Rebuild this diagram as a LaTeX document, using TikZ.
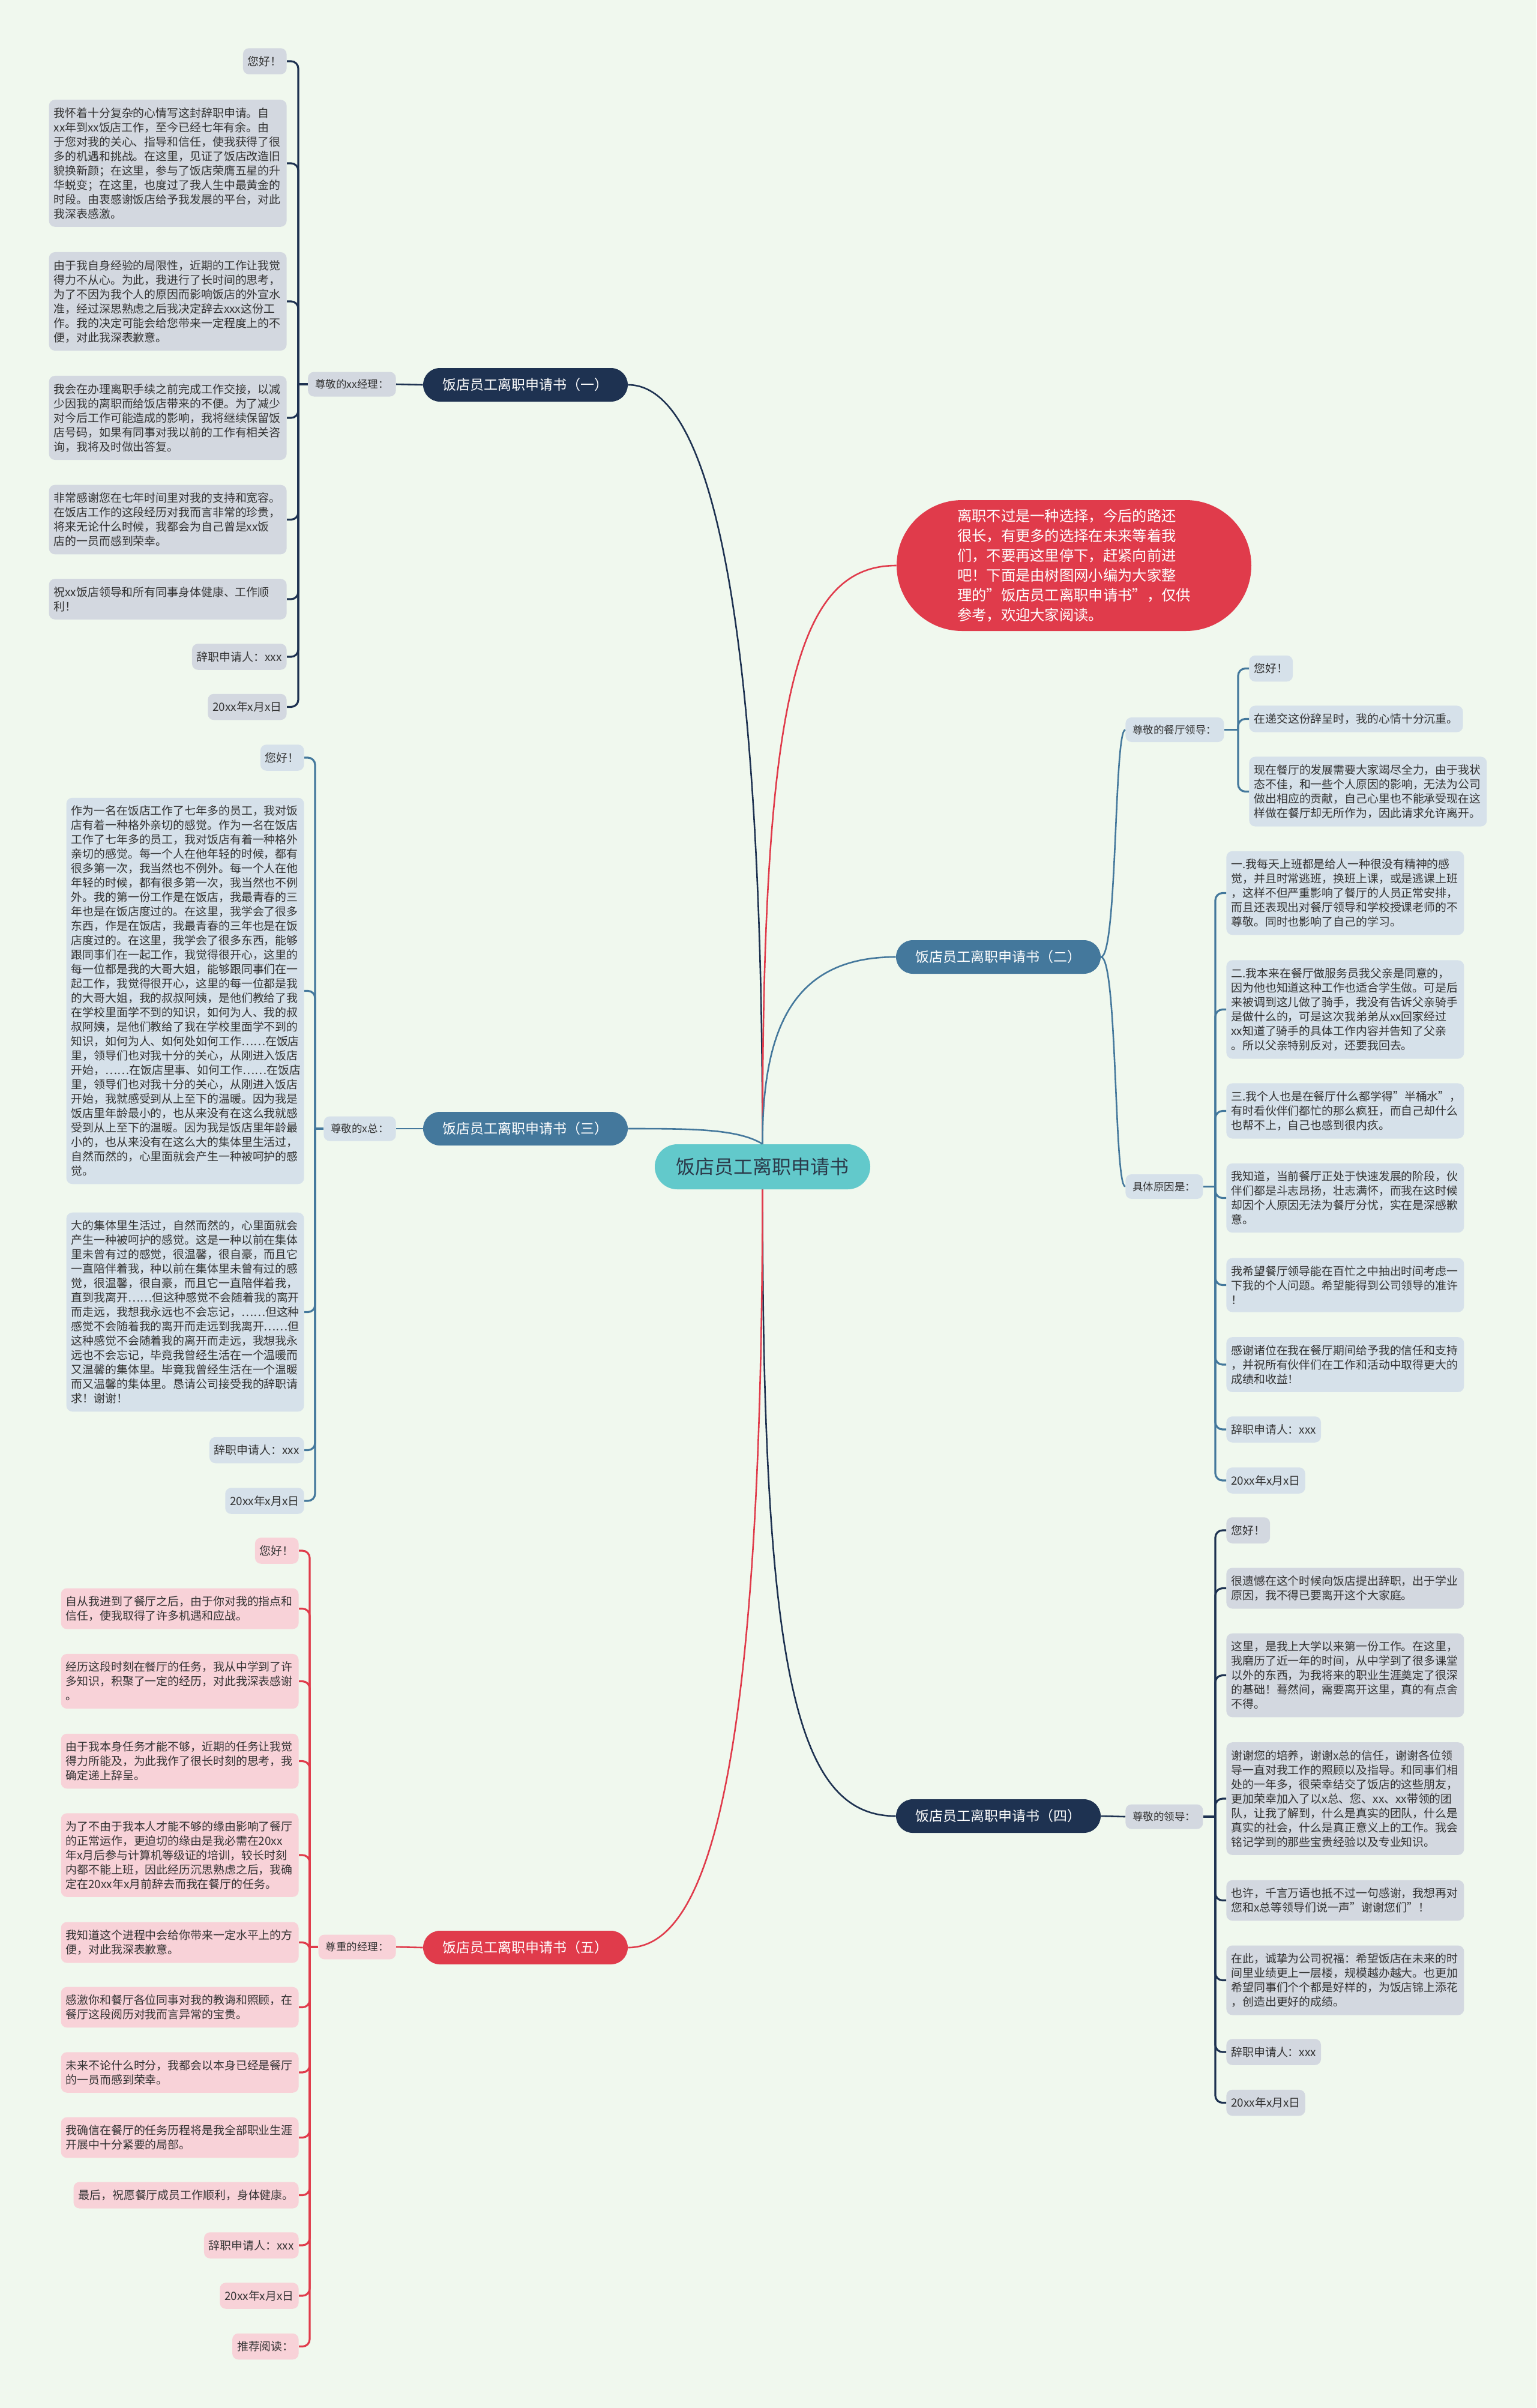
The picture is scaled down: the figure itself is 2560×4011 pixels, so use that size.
\documentclass[tikz,border=0pt]{standalone}
\usepackage{fontspec}
\setmainfont{Noto Sans CJK SC}
\usetikzlibrary{shapes.misc}

\definecolor{bgmint}{HTML}{F0F8EE}
\definecolor{navy}{HTML}{1E3251}
\definecolor{steel}{HTML}{44789C}
\definecolor{rosered}{HTML}{E03B4B}
\definecolor{rootteal}{HTML}{62C9CB}
\definecolor{roottext}{HTML}{2B3A4A}
\definecolor{leafgray}{HTML}{D3D8E0}
\definecolor{leafblue}{HTML}{D6E1EA}
\definecolor{leafpink}{HTML}{F8D2D8}
\definecolor{inktext}{HTML}{333333}

\begin{document}
\begin{tikzpicture}[
                x=0.5pt, y=-0.5pt,
                leaf/.style={rectangle, rounded corners=5pt, text width=190pt, align=left, inner xsep=4pt, inner ysep=6.5pt, text=inktext, font=\fontsize{9.45pt}{12pt}\selectfont},
                tag/.style={rectangle, rounded corners=5pt, inner xsep=4pt, inner ysep=6.5pt, text=inktext, font=\fontsize{9.45pt}{12pt}\selectfont},
                lead/.style={rectangle, rounded corners=5pt, inner xsep=6pt, minimum height=20.5pt, text=inktext, font=\fontsize{8.75pt}{10pt}\selectfont},
                branch/.style={rounded rectangle, minimum width=174.5pt, minimum height=28pt, inner xsep=2pt, text=white, font=\fontsize{11.5pt}{13pt}\selectfont},
                trunk/.style={line width=1.3pt},
                brk/.style={line width=1.6pt, rounded corners=6pt},
            ]
            \useasboundingbox (0,0) rectangle (2560,4011);
            \fill[bgmint] (0,0) rectangle (2560,4011);

            \node[rounded rectangle, fill=rootteal, text=roottext, minimum width=183.5pt, minimum height=37.5pt, inner xsep=2pt, font=\fontsize{16pt}{18pt}\selectfont] (root) at (1270.5,1943.5) {饭店员工离职申请书};
            \node[rounded rectangle, fill=rosered, text=white, minimum width=299.5pt, minimum height=109pt, inner xsep=2pt, align=left, font=\fontsize{12.15pt}{16.5pt}\selectfont] (intro) at (1789.5,942)
            {离职不过是一种选择，今后的路还\\很长，有更多的选择在未来等着我\\们，不要再这里停下，赶紧向前进\\吧！下面是由树图网小编为大家整\\理的"饭店员工离职申请书"，仅供\\参考，欢迎大家阅读。};

            \node[branch, fill=navy] (b1) at (875.5,641) {饭店员工离职申请书（一）};
            \node[branch, fill=steel] (b2) at (1663.5,1594) {饭店员工离职申请书（二）};
            \node[branch, fill=steel] (b3) at (875.5,1880) {饭店员工离职申请书（三）};
            \node[branch, fill=navy] (b4) at (1663.5,3025) {饭店员工离职申请书（四）};
            \node[branch, fill=rosered] (b5) at (875.5,3244) {饭店员工离职申请书（五）};

            % (一)
            \node[lead, fill=leafgray, anchor=east] (lo) at (660,640) {尊敬的xx经理：};
            \coordinate (vo) at (497,640);
            \node[tag, fill=leafgray, anchor=east] (o1) at (478,102) {您好！};
            \node[leaf, fill=leafgray, anchor=east] (o2) at (478,272)
            {我怀着十分复杂的心情写这封辞职申请。自\\xx年到xx饭店工作，至今已经七年有余。由\\于您对我的关心、指导和信任，使我获得了很\\多的机遇和挑战。在这里，见证了饭店改造旧\\貌换新颜；在这里，参与了饭店荣膺五星的升\\华蜕变；在这里，也度过了我人生中最黄金的\\时段。由衷感谢饭店给予我发展的平台，对此\\我深表感激。};
            \node[leaf, fill=leafgray, anchor=east] (o3) at (478,502)
            {由于我自身经验的局限性，近期的工作让我觉\\得力不从心。为此，我进行了长时间的思考，\\为了不因为我个人的原因而影响饭店的外宣水\\准，经过深思熟虑之后我决定辞去xxx这份工\\作。我的决定可能会给您带来一定程度上的不\\便，对此我深表歉意。};
            \node[leaf, fill=leafgray, anchor=east] (o4) at (478,696)
            {我会在办理离职手续之前完成工作交接，以减\\少因我的离职而给饭店带来的不便。为了减少\\对今后工作可能造成的影响，我将继续保留饭\\店号码，如果有同事对我以前的工作有相关咨\\询，我将及时做出答复。};
            \node[leaf, fill=leafgray, anchor=east] (o5) at (478,865.5)
            {非常感谢您在七年时间里对我的支持和宽容。\\在饭店工作的这段经历对我而言非常的珍贵，\\将来无论什么时候，我都会为自己曾是xx饭\\店的一员而感到荣幸。};
            \node[leaf, fill=leafgray, anchor=east] (o6) at (478,998)
            {祝xx饭店领导和所有同事身体健康、工作顺\\利！};
            \node[tag, fill=leafgray, anchor=east] (o7) at (478,1094) {辞职申请人：xxx};
            \node[tag, fill=leafgray, anchor=east] (o8) at (478,1177.5) {20xx年x月x日};

            % (三)
            \node[lead, fill=leafblue, anchor=east] (lt) at (660,1880) {尊敬的x总：};
            \coordinate (vt) at (525,1880);
            \node[tag, fill=leafblue, anchor=east] (t1) at (507,1262) {您好！};
            \node[leaf, fill=leafblue, anchor=east] (t2) at (507,1650.5)
            {作为一名在饭店工作了七年多的员工，我对饭\\店有着一种格外亲切的感觉。作为一名在饭店\\工作了七年多的员工，我对饭店有着一种格外\\亲切的感觉。每一个人在他年轻的时候，都有\\很多第一次，我当然也不例外。每一个人在他\\年轻的时候，都有很多第一次，我当然也不例\\外。我的第一份工作是在饭店，我最青春的三\\年也是在饭店度过的。在这里，我学会了很多\\东西，作是在饭店，我最青春的三年也是在饭\\店度过的。在这里，我学会了很多东西，能够\\跟同事们在一起工作，我觉得很开心，这里的\\每一位都是我的大哥大姐，能够跟同事们在一\\起工作，我觉得很开心，这里的每一位都是我\\的大哥大姐，我的叔叔阿姨，是他们教给了我\\在学校里面学不到的知识，如何为人、我的叔\\叔阿姨，是他们教给了我在学校里面学不到的\\知识，如何为人、如何处如何工作……在饭店\\里，领导们也对我十分的关心，从刚进入饭店\\开始，……在饭店里事、如何工作……在饭店\\里，领导们也对我十分的关心，从刚进入饭店\\开始，我就感受到从上至下的温暖。因为我是\\饭店里年龄最小的，也从来没有在这么我就感\\受到从上至下的温暖。因为我是饭店里年龄最\\小的，也从来没有在这么大的集体里生活过，\\自然而然的，心里面就会产生一种被呵护的感\\觉。};
            \node[leaf, fill=leafblue, anchor=east] (t3) at (507,2185.5)
            {大的集体里生活过，自然而然的，心里面就会\\产生一种被呵护的感觉。这是一种以前在集体\\里未曾有过的感觉，很温馨，很自豪，而且它\\一直陪伴着我，种以前在集体里未曾有过的感\\觉，很温馨，很自豪，而且它一直陪伴着我，\\直到我离开……但这种感觉不会随着我的离开\\而走远，我想我永远也不会忘记，……但这种\\感觉不会随着我的离开而走远到我离开……但\\这种感觉不会随着我的离开而走远，我想我永\\远也不会忘记，毕竟我曾经生活在一个温暖而\\又温馨的集体里。毕竟我曾经生活在一个温暖\\而又温馨的集体里。恳请公司接受我的辞职请\\求！谢谢！};
            \node[tag, fill=leafblue, anchor=east] (t4) at (507,2415.5) {辞职申请人：xxx};
            \node[tag, fill=leafblue, anchor=east] (t5) at (507,2500) {20xx年x月x日};

            % (五)
            \node[lead, fill=leafpink, anchor=east] (lf) at (660,3243) {尊重的经理：};
            \coordinate (vf) at (516,3243);
            \node[tag, fill=leafpink, anchor=east] (f1) at (498,2583) {您好！};
            \node[leaf, fill=leafpink, anchor=east] (f2) at (498,2679.5)
            {自从我进到了餐厅之后，由于你对我的指点和\\信任，使我取得了许多机遇和应战。};
            \node[leaf, fill=leafpink, anchor=east] (f3) at (498,2800.5)
            {经历这段时刻在餐厅的任务，我从中学到了许\\多知识，积聚了一定的经历，对此我深表感谢\\。};
            \node[leaf, fill=leafpink, anchor=east] (f4) at (498,2933.5)
            {由于我本身任务才能不够，近期的任务让我觉\\得力所能及，为此我作了很长时刻的思考，我\\确定递上辞呈。};
            \node[leaf, fill=leafpink, anchor=east] (f5) at (498,3090)
            {为了不由于我本人才能不够的缘由影响了餐厅\\的正常运作，更迫切的缘由是我必需在20xx\\年x月后参与计算机等级证的培训，较长时刻\\内都不能上班，因此经历沉思熟虑之后，我确\\定在20xx年x月前辞去而我在餐厅的任务。};
            \node[leaf, fill=leafpink, anchor=east] (f6) at (498,3235.5)
            {我知道这个进程中会给你带来一定水平上的方\\便，对此我深表歉意。};
            \node[leaf, fill=leafpink, anchor=east] (f7) at (498,3343.5)
            {感激你和餐厅各位同事对我的教诲和照顾，在\\餐厅这段阅历对我而言异常的宝贵。};
            \node[leaf, fill=leafpink, anchor=east] (f8) at (498,3452)
            {未来不论什么时分，我都会以本身已经是餐厅\\的一员而感到荣幸。};
            \node[leaf, fill=leafpink, anchor=east] (f9) at (498,3560.5)
            {我确信在餐厅的任务历程将是我全部职业生涯\\开展中十分紧要的局部。};
            \node[tag, fill=leafpink, anchor=east] (f10) at (498,3656.5) {最后，祝愿餐厅成员工作顺利，身体健康。};
            \node[tag, fill=leafpink, anchor=east] (f11) at (498,3740) {辞职申请人：xxx};
            \node[tag, fill=leafpink, anchor=east] (f12) at (498,3824) {20xx年x月x日};
            \node[tag, fill=leafpink, anchor=east] (f13) at (498,3908.5) {推荐阅读：};

            % (二)
            \node[lead, fill=leafblue, anchor=west] (ld) at (1875,1215.5) {尊敬的餐厅领导：};
            \coordinate (vd) at (2063,1215.5);
            \node[tag, fill=leafblue, anchor=west] (d1) at (2081,1113.5) {您好！};
            \node[tag, fill=leafblue, anchor=west] (d2) at (2081,1197.5) {在递交这份辞呈时，我的心情十分沉重。};
            \node[leaf, fill=leafblue, anchor=west] (d3) at (2081,1318.5)
            {现在餐厅的发展需要大家竭尽全力，由于我状\\态不佳，和一些个人原因的影响，无法为公司\\做出相应的贡献，自己心里也不能承受现在这\\样做在餐厅却无所作为，因此请求允许离开。};
            \node[lead, fill=leafblue, anchor=west] (lg) at (1875,1976.5) {具体原因是：};
            \coordinate (vg) at (2025,1976.5);
            \node[leaf, fill=leafblue, anchor=west] (g1) at (2043,1487.5)
            {一.我每天上班都是给人一种很没有精神的感\\觉，并且时常逃班，换班上课，或是逃课上班\\，这样不但严重影响了餐厅的人员正常安排，\\而且还表现出对餐厅领导和学校授课老师的不\\尊敬。同时也影响了自己的学习。};
            \node[leaf, fill=leafblue, anchor=west] (g2) at (2043,1681.5)
            {二.我本来在餐厅做服务员我父亲是同意的，\\因为他也知道这种工作也适合学生做。可是后\\来被调到这儿做了骑手，我没有告诉父亲骑手\\是做什么的，可是这次我弟弟从xx回家经过\\xx知道了骑手的具体工作内容并告知了父亲\\。所以父亲特别反对，还要我回去。};
            \node[leaf, fill=leafblue, anchor=west] (g3) at (2043,1850.5)
            {三.我个人也是在餐厅什么都学得"半桶水"，\\有时看伙伴们都忙的那么疯狂，而自己却什么\\也帮不上，自己也感到很内疚。};
            \node[leaf, fill=leafblue, anchor=west] (g4) at (2043,1995.5)
            {我知道，当前餐厅正处于快速发展的阶段，伙\\伴们都是斗志昂扬，壮志满怀，而我在这时候\\却因个人原因无法为餐厅分忧，实在是深感歉\\意。};
            \node[leaf, fill=leafblue, anchor=west] (g5) at (2043,2140.5)
            {我希望餐厅领导能在百忙之中抽出时间考虑一\\下我的个人问题。希望能得到公司领导的准许\\！};
            \node[leaf, fill=leafblue, anchor=west] (g6) at (2043,2273)
            {感谢诸位在我在餐厅期间给予我的信任和支持\\，并祝所有伙伴们在工作和活动中取得更大的\\成绩和收益！};
            \node[tag, fill=leafblue, anchor=west] (g7) at (2043,2381) {辞职申请人：xxx};
            \node[tag, fill=leafblue, anchor=west] (g8) at (2043,2466) {20xx年x月x日};

            % (四)
            \node[lead, fill=leafgray, anchor=west] (lh) at (1875,3026) {尊敬的领导：};
            \coordinate (vh) at (2025,3026);
            \node[tag, fill=leafgray, anchor=west] (h1) at (2043,2549) {您好！};
            \node[leaf, fill=leafgray, anchor=west] (h2) at (2043,2645.5)
            {很遗憾在这个时候向饭店提出辞职，出于学业\\原因，我不得已要离开这个大家庭。};
            \node[leaf, fill=leafgray, anchor=west] (h3) at (2043,2790.5)
            {这里，是我上大学以来第一份工作。在这里，\\我磨历了近一年的时间，从中学到了很多课堂\\以外的东西，为我将来的职业生涯奠定了很深\\的基础！蓦然间，需要离开这里，真的有点舍\\不得。};
            \node[leaf, fill=leafgray, anchor=west] (h4) at (2043,2996)
            {谢谢您的培养，谢谢x总的信任，谢谢各位领\\导一直对我工作的照顾以及指导。和同事们相\\处的一年多，很荣幸结交了饭店的这些朋友，\\更加荣幸加入了以x总、您、xx、xx带领的团\\队，让我了解到，什么是真实的团队，什么是\\真实的社会，什么是真正意义上的工作。我会\\铭记学到的那些宝贵经验以及专业知识。};
            \node[leaf, fill=leafgray, anchor=west] (h5) at (2043,3165.5)
            {也许，千言万语也抵不过一句感谢，我想再对\\您和x总等领导们说一声"谢谢您们"！};
            \node[leaf, fill=leafgray, anchor=west] (h6) at (2043,3298.5)
            {在此，诚挚为公司祝福：希望饭店在未来的时\\间里业绩更上一层楼，规模越办越大。也更加\\希望同事们个个都是好样的，为饭店锦上添花\\，创造出更好的成绩。};
            \node[tag, fill=leafgray, anchor=west] (h7) at (2043,3418) {辞职申请人：xxx};
            \node[tag, fill=leafgray, anchor=west] (h8) at (2043,3502.5) {20xx年x月x日};

            \draw[trunk, navy] (root.north) .. controls (1270,1000) and (1180,641) .. (b1.east);
            \draw[trunk, rosered] (root.north) .. controls (1270,1150) and (1330,942) .. (intro.west);
            \draw[trunk, steel] (root.north) .. controls (1270,1700) and (1330,1594) .. (b2.west);
            \draw[trunk, steel] (root.north) .. controls (1230,1880) and (1150,1880) .. (b3.east);
            \draw[trunk, navy] (root.south) .. controls (1270,2800) and (1330,3025) .. (b4.west);
            \draw[trunk, rosered] (root.south) .. controls (1270,2950) and (1180,3244) .. (b5.east);

            \draw[trunk, navy] (b1.west) -- (lo.east);
            \draw[trunk, steel] (b3.west) -- (lt.east);
            \draw[trunk, rosered] (b5.west) -- (lf.east);
            \draw[trunk, navy] (b4.east) -- (lh.west);
            \draw[trunk, steel] (b2.east) .. controls (1862,1594) and (1856,1215.5) .. (ld.west);
            \draw[trunk, steel] (b2.east) .. controls (1862,1594) and (1856,1976.5) .. (lg.west);

            \draw[brk, navy] (lo.west) -- (vo);
            \draw[brk, navy] (o1.east) -- (o1.east -| vo) -- (vo);
            \draw[brk, navy] (o2.east) -- (o2.east -| vo) -- (vo);
            \draw[brk, navy] (o3.east) -- (o3.east -| vo) -- (vo);
            \draw[brk, navy] (o4.east) -- (o4.east -| vo) -- (vo);
            \draw[brk, navy] (o5.east) -- (o5.east -| vo) -- (vo);
            \draw[brk, navy] (o6.east) -- (o6.east -| vo) -- (vo);
            \draw[brk, navy] (o7.east) -- (o7.east -| vo) -- (vo);
            \draw[brk, navy] (o8.east) -- (o8.east -| vo) -- (vo);

            \draw[brk, steel] (lt.west) -- (vt);
            \draw[brk, steel] (t1.east) -- (t1.east -| vt) -- (vt);
            \draw[brk, steel] (t2.east) -- (t2.east -| vt) -- (vt);
            \draw[brk, steel] (t3.east) -- (t3.east -| vt) -- (vt);
            \draw[brk, steel] (t4.east) -- (t4.east -| vt) -- (vt);
            \draw[brk, steel] (t5.east) -- (t5.east -| vt) -- (vt);

            \draw[brk, rosered] (lf.west) -- (vf);
            \draw[brk, rosered] (f1.east) -- (f1.east -| vf) -- (vf);
            \draw[brk, rosered] (f2.east) -- (f2.east -| vf) -- (vf);
            \draw[brk, rosered] (f3.east) -- (f3.east -| vf) -- (vf);
            \draw[brk, rosered] (f4.east) -- (f4.east -| vf) -- (vf);
            \draw[brk, rosered] (f5.east) -- (f5.east -| vf) -- (vf);
            \draw[brk, rosered] (f6.east) -- (f6.east -| vf) -- (vf);
            \draw[brk, rosered] (f7.east) -- (f7.east -| vf) -- (vf);
            \draw[brk, rosered] (f8.east) -- (f8.east -| vf) -- (vf);
            \draw[brk, rosered] (f9.east) -- (f9.east -| vf) -- (vf);
            \draw[brk, rosered] (f10.east) -- (f10.east -| vf) -- (vf);
            \draw[brk, rosered] (f11.east) -- (f11.east -| vf) -- (vf);
            \draw[brk, rosered] (f12.east) -- (f12.east -| vf) -- (vf);
            \draw[brk, rosered] (f13.east) -- (f13.east -| vf) -- (vf);

            \draw[brk, steel] (ld.east) -- (vd);
            \draw[brk, steel] (d1.west) -- (d1.west -| vd) -- (vd);
            \draw[brk, steel] (d2.west) -- (d2.west -| vd) -- (vd);
            \draw[brk, steel] (d3.west) -- (d3.west -| vd) -- (vd);

            \draw[brk, steel] (lg.east) -- (vg);
            \draw[brk, steel] (g1.west) -- (g1.west -| vg) -- (vg);
            \draw[brk, steel] (g2.west) -- (g2.west -| vg) -- (vg);
            \draw[brk, steel] (g3.west) -- (g3.west -| vg) -- (vg);
            \draw[brk, steel] (g4.west) -- (g4.west -| vg) -- (vg);
            \draw[brk, steel] (g5.west) -- (g5.west -| vg) -- (vg);
            \draw[brk, steel] (g6.west) -- (g6.west -| vg) -- (vg);
            \draw[brk, steel] (g7.west) -- (g7.west -| vg) -- (vg);
            \draw[brk, steel] (g8.west) -- (g8.west -| vg) -- (vg);

            \draw[brk, navy] (lh.east) -- (vh);
            \draw[brk, navy] (h1.west) -- (h1.west -| vh) -- (vh);
            \draw[brk, navy] (h2.west) -- (h2.west -| vh) -- (vh);
            \draw[brk, navy] (h3.west) -- (h3.west -| vh) -- (vh);
            \draw[brk, navy] (h4.west) -- (h4.west -| vh) -- (vh);
            \draw[brk, navy] (h5.west) -- (h5.west -| vh) -- (vh);
            \draw[brk, navy] (h6.west) -- (h6.west -| vh) -- (vh);
            \draw[brk, navy] (h7.west) -- (h7.west -| vh) -- (vh);
            \draw[brk, navy] (h8.west) -- (h8.west -| vh) -- (vh);
        \end{tikzpicture}
\end{document}
